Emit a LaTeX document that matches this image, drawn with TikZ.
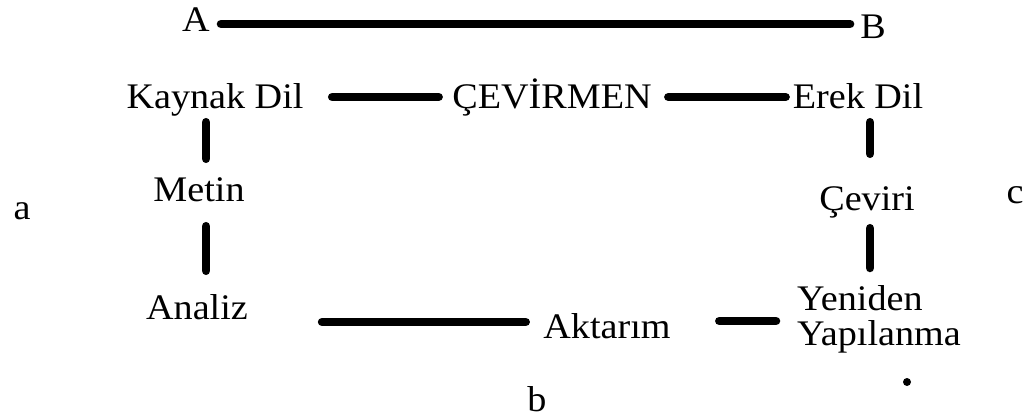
\documentclass[tikz,border=0pt]{standalone}
\usepackage{fontspec}
\setmainfont{Liberation Serif}[FakeStretch=1.06]
\usetikzlibrary{calc}
\begin{document}
\begin{tikzpicture}[x=1pt,y=1pt,
  lbl/.style={inner sep=0pt, text height=24pt, text depth=0pt, font=\fontsize{36}{40}\selectfont},
  lbl2/.style={inner sep=0pt, align=left, font=\fontsize{36}{35}\selectfont},
  link/.style={line width=8.5pt, line cap=round}]
\useasboundingbox (0,0) rectangle (1033,-417);
\fill[white] (0,0) rectangle (1033,-417);

\node[lbl] (A) at (196,-20) {A};
\node[lbl] (B) at (873,-27) {B};
\node[lbl] (KD) at (215,-97) {Kaynak Dil};
\node[lbl] (CEV) at (552,-97) {ÇEVİRMEN};
\node[lbl] (ERK) at (858,-97) {Erek Dil};
\node[lbl] (MET) at (199,-189) {Metin};
\node[lbl] (CVR) at (867,-198) {Çeviri};
\node[lbl] (ANA) at (197,-307) {Analiz};
\node[lbl] (AKT) at (607,-326) {Aktarım};
\node[lbl2, anchor=north west] (YY) at (797,-285) {Yeniden\\Yapılanma};
\node[lbl] (la) at (22,-207) {a};
\node[lbl] (lb) at (537,-399) {b};
\node[lbl] (lc) at (1015,-191) {c};
\fill (907,-382) circle (4);

\draw[link] ($(A.east)+(11,-4)$) -- ($(B.west |- A.east)+(-10,-4)$);
\draw[link, shorten <=28.5pt, shorten >=13.5pt] (KD.east) -- (CEV.west);
\draw[link, shorten <=16.5pt, shorten >=7pt] (CEV.east) -- (ERK.west);
\draw[link, shorten <=13pt, shorten >=18pt] ($(KD.south)+(-9,0)$) -- ($(KD.south |- MET.north)+(-9,0)$);
\draw[link, shorten <=25pt, shorten >=24pt] ($(MET.south)+(7,0)$) -- ($(MET.south |- ANA.north)+(7,0)$);
\draw[link, shorten <=13pt, shorten >=32pt] ($(ERK.south)+(12,0)$) -- ($(ERK.south |- CVR.north)+(12,0)$);
\draw[link, shorten <=18pt, shorten >=17pt] ($(CVR.south)+(3,0)$) -- ($(CVR.south |- YY.north)+(3,0)$);
\draw[link, shorten <=74pt, shorten >=17.5pt] ($(ANA.east)+(0,-15)$) -- ($(AKT.west)+(0,4)$);
\draw[link, shorten <=48.5pt, shorten >=21pt] ($(AKT.east)+(0,5)$) -- ($(YY.west |- AKT.east)+(0,5)$);
\end{tikzpicture}
\end{document}
